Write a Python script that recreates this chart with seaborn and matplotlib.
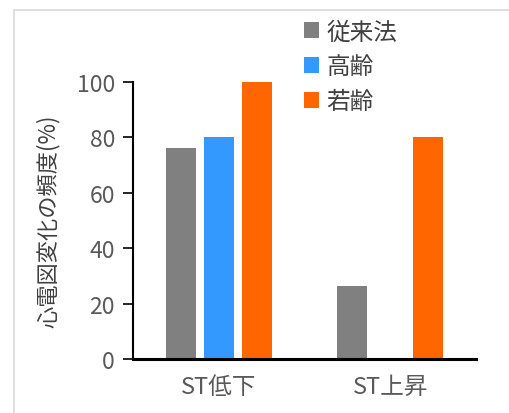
import pandas as pd
import seaborn as sns
import matplotlib.pyplot as plt
from matplotlib.patches import Rectangle

# Data
categories = ['ST低下', 'ST上昇']
methods = ['従来法', '高齢', '若齢']
conventional = [76.3, 26.3]
elderly = [80.0, None]
young = [100.0, 80.0]
colors = ['#808080', '#3399FF', '#FF6600']

rows = []
for name, vals in zip(methods, [conventional, elderly, young]):
    for cat, v in zip(categories, vals):
        rows.append({'category': cat, 'method': name, 'value': v})
df = pd.DataFrame(rows).dropna()

sns.set_style('white')
plt.rcParams['font.family'] = ['Noto Sans CJK JP', 'DejaVu Sans']

fig = plt.figure(figsize=(5.1, 4.14), dpi=100)
ax = fig.add_axes([0.261, 0.130, 0.672, 0.670])

sns.barplot(data=df, x='category', y='value', hue='method', order=categories,
            hue_order=methods, palette=colors, saturation=1, width=0.667, gap=0.21,
            errorbar=None, ax=ax, edgecolor='none')

ax.set_xlim(-0.5, 1.5)
ax.set_ylim(0, 100)
ax.set_yticks(range(0, 101, 20))
ax.tick_params(axis='y', which='major', direction='out', length=7, width=1.2,
               color='black', left=True, labelsize=16.5, labelcolor='#595959', pad=6)
ax.tick_params(axis='x', bottom=False, labelsize=17, labelcolor='#595959', pad=8)
ax.set_xlabel('')
ax.set_ylabel('心電図変化の頻度(%)', fontsize=16, color='#404040', labelpad=12)

for side in ['top', 'right']:
    ax.spines[side].set_visible(False)
ax.spines['left'].set_color('black')
ax.spines['left'].set_linewidth(1.5)
ax.spines['bottom'].set_color('black')
ax.spines['bottom'].set_linewidth(2.2)

ax.legend(loc='upper left', bbox_to_anchor=(0.47, 1.255), frameon=False,
          fontsize=17, handlelength=0.65, handleheight=0.65, handletextpad=0.3,
          labelspacing=0.5, labelcolor='#404040', borderaxespad=0)

# light outer frame of the chart area
fig.add_artist(Rectangle((14 / 510, -0.05), 1.0, 1 - 11 / 414 + 0.05,
                         transform=fig.transFigure, fill=False,
                         edgecolor='#d9d9d9', linewidth=1.2, zorder=0))

fig.savefig('out.png', dpi=100)
